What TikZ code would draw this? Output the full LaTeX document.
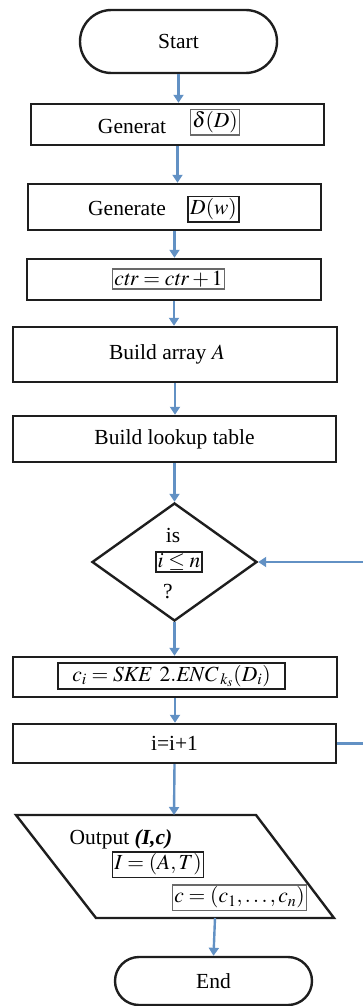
\documentclass[tikz,border=0pt]{standalone}
\usepackage{mathptmx}
\usepackage{fontspec}
\setmainfont{Liberation Serif}
\newfontfamily\flowfont{Liberation Serif}
\usetikzlibrary{shapes.misc,shapes.geometric,arrows.meta}

\definecolor{flowblue}{RGB}{98,145,196}
\definecolor{edge}{RGB}{30,30,30}
\definecolor{boxgray}{RGB}{105,105,105}

\tikzset{
  flowbox/.style={draw=edge, line width=2.4pt, fill=white, inner sep=0pt},
  termbox/.style={draw=edge, line width=2.4pt, rounded rectangle, inner sep=0pt},
  mathbox/.style={draw=boxgray, line width=1.5pt, inner sep=2pt},
  arr/.style={draw=flowblue, line width=2.4pt, -{Triangle[length=8pt,width=10pt]}},
  link/.style={draw=flowblue, line width=2.4pt},
}

\begin{document}
\begin{tikzpicture}[x=1pt, y=-1pt, font=\flowfont\fontsize{21.5}{25}\selectfont]
\useasboundingbox (0,0) rectangle (363,1006);

% terminals and process boxes
\node[termbox, minimum width=197pt, minimum height=63pt] (start) at (178.5,41.5) {Start};
\node[flowbox, minimum width=293pt, minimum height=41pt] (gen1) at (177.5,124.5) {};
\node at (132,126) {Generat};
\node[mathbox, draw=boxgray] (delta) at (215,122.5) {$\delta(D)$};

\node[flowbox, minimum width=293pt, minimum height=46pt] (gen2) at (174.5,207) {};
\node at (127,208) {Generate};
\node[mathbox, draw=edge] (dw) at (213.5,209) {$D(w)$};

\node[flowbox, minimum width=294pt, minimum height=41pt] (ctr) at (174,279.5) {};
\node[mathbox] (ctrtext) at (168.5,279) {$\mathit{ctr}=\mathit{ctr}+1$};

\node[flowbox, minimum width=324pt, minimum height=55pt] (arr) at (175,354.5) {Build array $A$\hspace*{16pt}};

\node[flowbox, minimum width=323pt, minimum height=46pt] (lookup) at (174.5,439) {Build lookup table};

% decision
\node[draw=edge, line width=2.4pt, diamond, minimum width=165pt, minimum height=118pt, inner sep=0pt] (test) at (174.5,562) {};
\node[inner sep=1pt] at (173,535) {is};
\node[mathbox, draw=edge, inner sep=1.5pt] (cond) at (179,562) {$i\leq n$};
\node[inner sep=1pt] at (168,592) {?};

\node[flowbox, minimum width=324pt, minimum height=40pt] (enc) at (175,677) {};
\node[mathbox, draw=edge, minimum width=227pt] (enctext) at (171.5,676) {$c_i = \mathit{SKE}\ \,2.\mathit{ENC}_{\,k_s}(D_i)$};

\node[flowbox, minimum width=323pt, minimum height=39pt] (inc) at (174.5,743.5) {i=i+1};

% output parallelogram
\coordinate (otl) at (16,815);
\coordinate (otr) at (256,815);
\coordinate (obr) at (334,918);
\coordinate (obl) at (96,918);
\draw[draw=edge, line width=2.4pt, line join=miter] (otl) -- (otr) -- (obr) -- (obl) -- cycle;
\coordinate (outtop) at (174,815);
\coordinate (outbot) at (215,918);
\node[anchor=west] (outlabel) at (66,839) {Output \textbf{\textit{(I,c)}}};
\node[mathbox, draw=edge] (iat) at (158,864.5) {$I=(A,T)$};
\node[mathbox] (cvec) at (239.5,897.5) {$c=(c_1,\ldots,c_n)$};

\node[termbox, minimum width=197pt, minimum height=48pt] (end) at (213.5,981) {End};

% connectors
\draw[arr] (start.south) -- (start.south |- gen1.north);
\draw[arr] (gen1.south) -- (gen1.south |- gen2.north);
\draw[arr] (gen2.south) -- (gen2.south |- ctr.north);
\draw[arr] (ctr.south) -- (ctr.south |- arr.north);
\draw[arr] (arr.south) -- (arr.south |- lookup.north);
\draw[arr] (lookup.south) -- (test.north);
\draw[arr] (test.south) -- (test.south |- enc.north);
\draw[arr] (enc.south) -- (enc.south |- inc.north);
\draw[arr] (inc.south) -- (outtop);
\draw[arr] (outbot) -- (end.north);

% loop back (continues past the right edge)
\coordinate (loopout) at (363,743.5);
\coordinate (loopin) at (363,562);
\draw[link] (inc.east) -- (loopout);
\draw[arr] (loopin) -- (test.east);
\end{tikzpicture}
\end{document}
